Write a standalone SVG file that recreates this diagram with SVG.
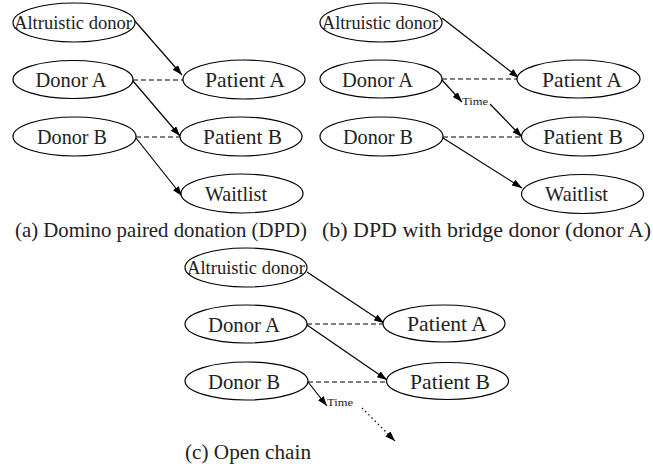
<svg xmlns="http://www.w3.org/2000/svg" width="653" height="468" viewBox="0 0 653 468" font-family="'Liberation Serif', 'DejaVu Serif', serif">
<style>
.n ellipse{fill:#fff;stroke:#000;stroke-width:1.2}
text{font-family:'Liberation Serif','DejaVu Serif',serif;fill:#222}
.t{font-size:21px;text-anchor:middle}
.s{font-size:19px;text-anchor:middle}
.cap{font-size:21px}
.tm{font-size:11px}
.e{stroke:#000;stroke-width:1.2;fill:none}
.a{marker-end:url(#ah)}
.d{stroke-dasharray:5,3}
.o{stroke-dasharray:1.5,3}
</style>
<defs>
<marker id="ah" markerUnits="userSpaceOnUse" markerWidth="11" markerHeight="8" refX="10" refY="3.5" orient="auto">
<path d="M0,0 L10,3.5 L0,7 z" fill="#000"/>
</marker>
</defs>

<g id="connectors">
<line class="e a" x1="134" y1="20" x2="182" y2="75"/>
<line class="e d" x1="133" y1="80" x2="183" y2="80"/>
<line class="e a" x1="133" y1="81" x2="180" y2="136"/>
<line class="e d" x1="136" y1="137" x2="180" y2="137"/>
<line class="e a" x1="136" y1="138" x2="182" y2="196"/>
<line class="e a" x1="442" y1="18" x2="519" y2="78"/>
<line class="e d" x1="442" y1="79" x2="517" y2="79"/>
<line class="e a" x1="442" y1="80" x2="462" y2="102"/>
<line class="e a" x1="490" y1="104" x2="522" y2="137"/>
<line class="e d" x1="443" y1="137" x2="522" y2="137"/>
<line class="e a" x1="443" y1="138" x2="522" y2="188"/>
<line class="e a" x1="307" y1="272" x2="384" y2="323"/>
<line class="e d" x1="307" y1="324" x2="383" y2="324"/>
<line class="e a" x1="307" y1="325" x2="387" y2="380"/>
<line class="e d" x1="308" y1="382" x2="387" y2="382"/>
<line class="e a" x1="308" y1="382" x2="327" y2="406"/>
<line class="e a o" x1="362" y1="408" x2="395" y2="441"/>
<text class="tm" x="462" y="105" textLength="26" lengthAdjust="spacingAndGlyphs">Time</text>
<text class="tm" x="327" y="406" textLength="26" lengthAdjust="spacingAndGlyphs">Time</text>
</g>

<g id="a-altruistic" class="n"><ellipse cx="74" cy="22.5" rx="61" ry="19.5"/><text class="s" x="73" y="29" textLength="118" lengthAdjust="spacingAndGlyphs">Altruistic donor</text></g>
<g id="a-donorA" class="n"><ellipse cx="73" cy="79.5" rx="60" ry="19"/><text class="t" x="71" y="86.5" textLength="71" lengthAdjust="spacingAndGlyphs">Donor A</text></g>
<g id="a-donorB" class="n"><ellipse cx="74.5" cy="136.5" rx="61.5" ry="19.5"/><text class="t" x="72" y="143.5" textLength="70" lengthAdjust="spacingAndGlyphs">Donor B</text></g>
<g id="a-patientA" class="n"><ellipse cx="244" cy="79.5" rx="61" ry="19.5"/><text class="t" x="245" y="86.5" textLength="80" lengthAdjust="spacingAndGlyphs">Patient A</text></g>
<g id="a-patientB" class="n"><ellipse cx="241" cy="136.5" rx="61" ry="19.5"/><text class="t" x="242.5" y="143.5" textLength="79" lengthAdjust="spacingAndGlyphs">Patient B</text></g>
<g id="a-waitlist" class="n"><ellipse cx="242" cy="193.5" rx="61" ry="19.5"/><text class="t" x="236" y="200.5" textLength="62" lengthAdjust="spacingAndGlyphs">Waitlist</text></g>
<text class="cap" x="15" y="237" textLength="292" lengthAdjust="spacingAndGlyphs">(a) Domino paired donation (DPD)</text>

<g id="b-altruistic" class="n"><ellipse cx="381" cy="22.5" rx="61" ry="19.5"/><text class="s" x="380" y="29" textLength="116" lengthAdjust="spacingAndGlyphs">Altruistic donor</text></g>
<g id="b-donorA" class="n"><ellipse cx="381" cy="79" rx="61" ry="19"/><text class="t" x="377.5" y="86.5" textLength="71" lengthAdjust="spacingAndGlyphs">Donor A</text></g>
<g id="b-donorB" class="n"><ellipse cx="381.5" cy="136.5" rx="61.5" ry="19.5"/><text class="t" x="378" y="143.5" textLength="70" lengthAdjust="spacingAndGlyphs">Donor B</text></g>
<g id="b-patientA" class="n"><ellipse cx="578.5" cy="79" rx="61.5" ry="19"/><text class="t" x="582" y="86.5" textLength="80" lengthAdjust="spacingAndGlyphs">Patient A</text></g>
<g id="b-patientB" class="n"><ellipse cx="582.5" cy="136.5" rx="61" ry="19.5"/><text class="t" x="583" y="143.5" textLength="80" lengthAdjust="spacingAndGlyphs">Patient B</text></g>
<g id="b-waitlist" class="n"><ellipse cx="582.5" cy="194" rx="61" ry="19.5"/><text class="t" x="576.5" y="201" textLength="63" lengthAdjust="spacingAndGlyphs">Waitlist</text></g>
<text class="cap" x="322" y="237" textLength="329" lengthAdjust="spacingAndGlyphs">(b) DPD with bridge donor (donor A)</text>

<g id="c-altruistic" class="n"><ellipse cx="246" cy="267.5" rx="61" ry="19.5"/><text class="s" x="246" y="274" textLength="118" lengthAdjust="spacingAndGlyphs">Altruistic donor</text></g>
<g id="c-donorA" class="n"><ellipse cx="246" cy="324" rx="61" ry="19"/><text class="t" x="244" y="331.5" textLength="72" lengthAdjust="spacingAndGlyphs">Donor A</text></g>
<g id="c-donorB" class="n"><ellipse cx="246.5" cy="381" rx="61.5" ry="19"/><text class="t" x="244" y="388.5" textLength="72" lengthAdjust="spacingAndGlyphs">Donor B</text></g>
<g id="c-patientA" class="n"><ellipse cx="444" cy="323.5" rx="61" ry="18.5"/><text class="t" x="447" y="330.5" textLength="80" lengthAdjust="spacingAndGlyphs">Patient A</text></g>
<g id="c-patientB" class="n"><ellipse cx="447.5" cy="381" rx="61" ry="18.5"/><text class="t" x="450" y="388.5" textLength="80" lengthAdjust="spacingAndGlyphs">Patient B</text></g>
<text class="cap" x="185" y="459" textLength="126" lengthAdjust="spacingAndGlyphs">(c) Open chain</text>
</svg>
